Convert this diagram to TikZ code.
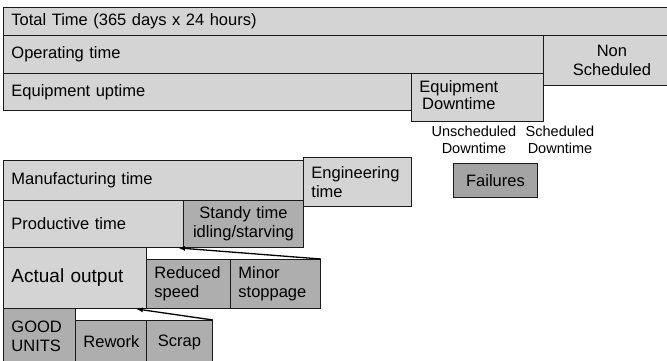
\documentclass[tikz,border=0pt]{standalone}
\usepackage{fontspec}
\setmainfont{Liberation Sans}
\usetikzlibrary{arrows.meta}
\definecolor{lightfill}{HTML}{D4D4D4}
\definecolor{darkfill}{HTML}{AEAEAE}
\definecolor{failfill}{HTML}{A4A4A4}
\definecolor{edgecol}{HTML}{1A1A1A}
\newcommand\tbox[7]{%
  \pgfmathsetmacro\bxh{#6-#4}%
  \pgfmathsetmacro\bxt{#5-#3-16}%
  \node[boxbase,#2,minimum height=\bxh pt,text width=\bxt pt] (#1) at (#3,#4) {#7};}
\tikzset{
  boxbase/.style={draw=edgecol, line width=0.9pt, anchor=north west, inner xsep=8pt, inner ysep=1pt, align=left, text=black},
  topfont/.style={font=\fontsize{16.5}{18.5}\selectfont},
  lowfont/.style={font=\fontsize{16.5}{19}\selectfont},
  bigfont/.style={font=\fontsize{19}{22}\selectfont},
  lightbox/.style={fill=lightfill},
  darkbox/.style={fill=darkfill},
  failbox/.style={fill=failfill},
  label/.style={font=\fontsize{14.5}{17}\selectfont, align=center, inner sep=0pt},
  conn/.style={draw=black, line width=1.3pt, -{Latex[length=7pt,width=5pt]}}
}
\begin{document}
\begin{tikzpicture}[x=1pt,y=-1pt]
\useasboundingbox (0,0) rectangle (667,361);
\clip (0,0) rectangle (667,361);
\fill[white] (0,0) rectangle (667,361);
% top section
\tbox{total}{lightbox,topfont}{3}{7}{690}{35}{Total Time (365 days x 24 hours)}
\tbox{operating}{lightbox,topfont}{3}{35}{543}{73}{Operating time}
\tbox{nonsched}{lightbox,topfont,align=center}{543}{35}{680}{85}{Non\\Scheduled}
\tbox{equp}{lightbox,topfont}{3}{73}{411}{110}{Equipment uptime}
\tbox{eqdown}{lightbox,topfont}{411}{73}{543}{121}{\begin{tabular}{@{}c@{}}Equipment\\[-1pt]Downtime\end{tabular}}
\node[label] (unsched) at (474,140) {Unscheduled\\Downtime};
\node[label] (sched) at (560,140) {Scheduled\\Downtime};
\tbox{failures}{failbox,lowfont,align=center}{453}{163}{537}{197}{Failures}
% lower section
\tbox{manuf}{lightbox,lowfont}{3}{160}{303}{200}{Manufacturing time}
\tbox{engin}{lightbox,lowfont}{303}{157}{411}{206}{Engineering\\time}
\tbox{productive}{lightbox,lowfont}{3}{200}{183}{247}{Productive time}
\tbox{standy}{darkbox,lowfont,align=center}{183}{200}{303}{247}{Standy time\\idling/starving}
\tbox{actual}{lightbox,bigfont}{3}{247}{146}{308}{Actual output}
\tbox{reduced}{darkbox,lowfont}{146}{259}{230}{308}{Reduced\\speed}
\tbox{minor}{darkbox,lowfont}{230}{259}{320}{308}{Minor\\stoppage}
\tbox{good}{darkbox,lowfont}{3}{308}{75}{363}{GOOD\\UNITS}
\tbox{rework}{darkbox,lowfont,align=center}{75}{320}{146}{363}{Rework}
\tbox{scrap}{darkbox,lowfont,align=center}{146}{320}{212}{363}{Scrap}
% connectors
\coordinate (tipA) at ([xshift=-5pt]standy.south west);
\coordinate (tipB) at ([xshift=-11pt]actual.south east);
\draw[conn] (minor.north east) -- (tipA);
\draw[conn] (scrap.north east) -- (tipB);
\end{tikzpicture}
\end{document}
